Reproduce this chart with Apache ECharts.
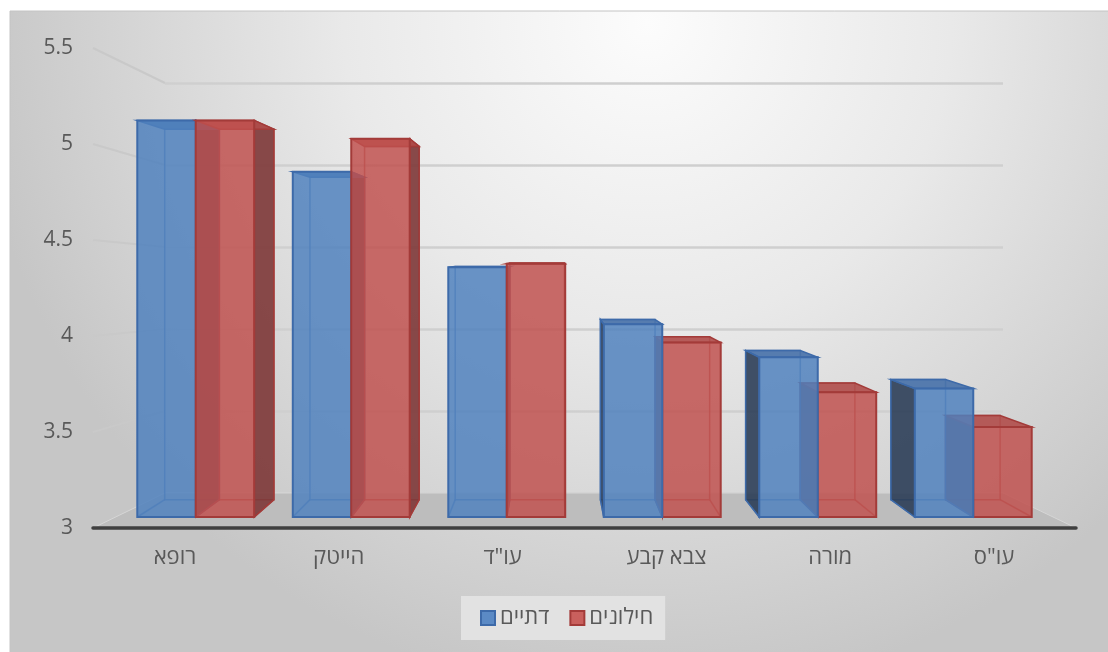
<!DOCTYPE html>
<html><head><meta charset="utf-8">
<script src="https://cdn.jsdelivr.net/npm/echarts@6/dist/echarts.min.js"></script>
<style>html,body{margin:0;padding:0;background:#fff}#c{width:1108px;height:652px}</style>
</head><body><div id="c"></div>
<script>
// ---- data ----
const categories = ['רופא', 'הייטק', 'עו"ד', 'צבא קבע', 'מורה', 'עו"ס'];
const seriesNames = ['דתיים', 'חילונים'];
const religious = [5.16, 4.88, 4.36, 4.05, 3.87, 3.70];
const secular   = [5.16, 5.06, 4.38, 3.95, 3.68, 3.49];
const yTicks = [3, 3.5, 4, 4.5, 5, 5.5];

// ---- layout / style ----
const W = 1108, H = 652;
const FRONT = {l: 93, r: 1076, t: 48, b: 528};
const BACK  = {l: 165, r: 1003, t: 83, b: 493};
const BARS  = {l: 118, r: 1051, t: 58, b: 517};
const VP = [553, 254], DEPTH = 0.066, BAR_FRAC = 0.376;
const yMin = yTicks[0], yMax = yTicks[yTicks.length - 1], yStep = yTicks[1] - yTicks[0];
const FONT = '"Open Sans","Noto Sans","DejaVu Sans",sans-serif';
const TXT = '#595959';

const STYLES = [
  {front: 'rgba(79,129,189,0.84)', edge: '#3d6aa9', side: 'rgba(40,58,84,0.88)', top: 'rgba(70,112,168,0.9)', inner: 'rgba(61,106,169,0.7)', legend: '#5b8ac5'},
  {front: 'rgba(192,80,77,0.84)', edge: '#a33b39', side: 'rgba(125,55,55,0.9)', top: 'rgba(176,76,74,0.9)', inner: 'rgba(163,59,57,0.7)', legend: '#c9605d'}
];

function gridOf(b) { return {left: b.l, top: b.t, width: b.r - b.l, height: b.b - b.t, containLabel: false}; }

function barSeries(idx, values) {
  const st = STYLES[idx];
  return {
    type: 'custom', name: seriesNames[idx], xAxisIndex: 2, yAxisIndex: 2,
    itemStyle: {color: st.legend, borderColor: st.edge, borderWidth: 1.5},
    data: values.map((v, i) => [i, v]),
    renderItem(params, api) {
      const i = api.value(0), v = api.value(1);
      const band = api.size([1, 0])[0];
      const c = api.coord([i, v]);
      const base = api.coord([i, yMin]);
      const bw = band * BAR_FRAC;
      const x0 = idx === 0 ? c[0] - bw : c[0], x1 = x0 + bw;
      const y0 = c[1], y1 = base[1];
      const P = (x, y) => [x + (VP[0] - x) * DEPTH, y + (VP[1] - y) * DEPTH];
      const fTL = [x0, y0], fTR = [x1, y0], fBR = [x1, y1], fBL = [x0, y1];
      const bTL = P(x0, y0), bTR = P(x1, y0), bBR = P(x1, y1), bBL = P(x0, y1);
      const cx = (x0 + x1) / 2;
      const zb = Math.round(1000 - Math.abs(cx - VP[0])) * 10;
      const children = [];
      children.push({type: 'polygon', z2: zb, shape: {points: [bTL, bTR, bBR, bBL]},
        style: {fill: 'none', stroke: st.inner, lineWidth: 1.5}});
      children.push({type: 'polyline', z2: zb, shape: {points: [fBL, bBL]}, style: {fill: 'none', stroke: st.inner, lineWidth: 1.5}});
      children.push({type: 'polyline', z2: zb, shape: {points: [fBR, bBR]}, style: {fill: 'none', stroke: st.inner, lineWidth: 1.5}});
      if (x1 < VP[0] - 2) {
        children.push({type: 'polygon', z2: zb + 1, shape: {points: [fTR, bTR, bBR, fBR]},
          style: {fill: st.side, stroke: st.edge, lineWidth: 1.5}});
      } else if (x0 > VP[0] + 2) {
        children.push({type: 'polygon', z2: zb + 1, shape: {points: [fTL, bTL, bBL, fBL]},
          style: {fill: st.side, stroke: st.edge, lineWidth: 1.5}});
      }
      children.push({type: 'polygon', z2: zb + 2, shape: {points: [fTL, fTR, bTR, bTL]},
        style: {fill: st.top, stroke: st.edge, lineWidth: 1.5}});
      children.push({type: 'rect', z2: zb + 3, shape: {x: x0, y: y0, width: bw, height: y1 - y0},
        style: {fill: st.front, stroke: st.edge, lineWidth: 2}});
      return {type: 'group', children};
    }
  };
}

function yOn(b, v) { return b.b - (v - yMin) / (yMax - yMin) * (b.b - b.t); }
const graphics = [
  {type: 'rect', z: -10, shape: {x: 10, y: 11, width: W - 9, height: H - 10},
    style: {fill: {type: 'radial', x: 0.58, y: 0.02, r: 1.05, colorStops: [
      {offset: 0, color: '#fcfcfc'}, {offset: 0.45, color: '#e9e9e9'}, {offset: 1, color: '#c6c6c6'}]},
      stroke: '#c4c4c4', lineWidth: 1}},
  {type: 'polygon', z: 1, shape: {points: [[FRONT.l, FRONT.b], [FRONT.r, FRONT.b], [BACK.r, BACK.b], [BACK.l, BACK.b]]},
    style: {fill: '#bdbdbd', stroke: '#d6d6d6', lineWidth: 1}}
];
yTicks.slice(1).forEach(v => {
  graphics.push({type: 'polyline', z: 0, shape: {points: [[FRONT.l, yOn(FRONT, v)], [BACK.l, yOn(BACK, v)]]},
    style: {fill: 'none', stroke: '#c9c9c9', lineWidth: 2.2}});
});

const option = {
  animation: false,
  textStyle: {fontFamily: FONT},
  graphic: graphics,
  grid: [gridOf(FRONT), gridOf(BACK), gridOf(BARS)],
  xAxis: [
    {type: 'category', gridIndex: 0, data: categories, z: 3,
      axisLine: {show: true, lineStyle: {color: '#3f3f3f', width: 3.5}},
      axisTick: {show: false},
      axisLabel: {margin: 19, fontSize: 22, color: TXT, fontFamily: FONT}},
    {type: 'category', gridIndex: 1, data: categories, show: false},
    {type: 'category', gridIndex: 2, data: categories, show: false}
  ],
  yAxis: [
    {type: 'value', gridIndex: 0, min: yMin, max: yMax, interval: yStep,
      axisLine: {show: false}, axisTick: {show: false}, splitLine: {show: false},
      axisLabel: {margin: 20, fontSize: 21, color: TXT, fontFamily: FONT}},
    {type: 'value', gridIndex: 1, min: yMin, max: yMax, interval: yStep,
      axisLine: {show: false}, axisTick: {show: false}, axisLabel: {show: false},
      splitLine: {show: true, lineStyle: {color: '#cfcfcf', width: 2.5}}},
    {type: 'value', gridIndex: 2, min: yMin, max: yMax, interval: yStep, show: false}
  ],
  legend: {
    data: seriesNames, left: 461, top: 596, icon: 'rect',
    itemWidth: 14, itemHeight: 14, itemGap: 20,
    padding: [11, 12, 11, 19], backgroundColor: '#e2e2e2',
    textStyle: {fontSize: 22, color: TXT, fontFamily: FONT}
  },
  series: [barSeries(0, religious), barSeries(1, secular)]
};

const chart = echarts.init(document.getElementById('c'), null, {renderer: 'canvas'});
chart.setOption(option);
</script>
</body></html>
